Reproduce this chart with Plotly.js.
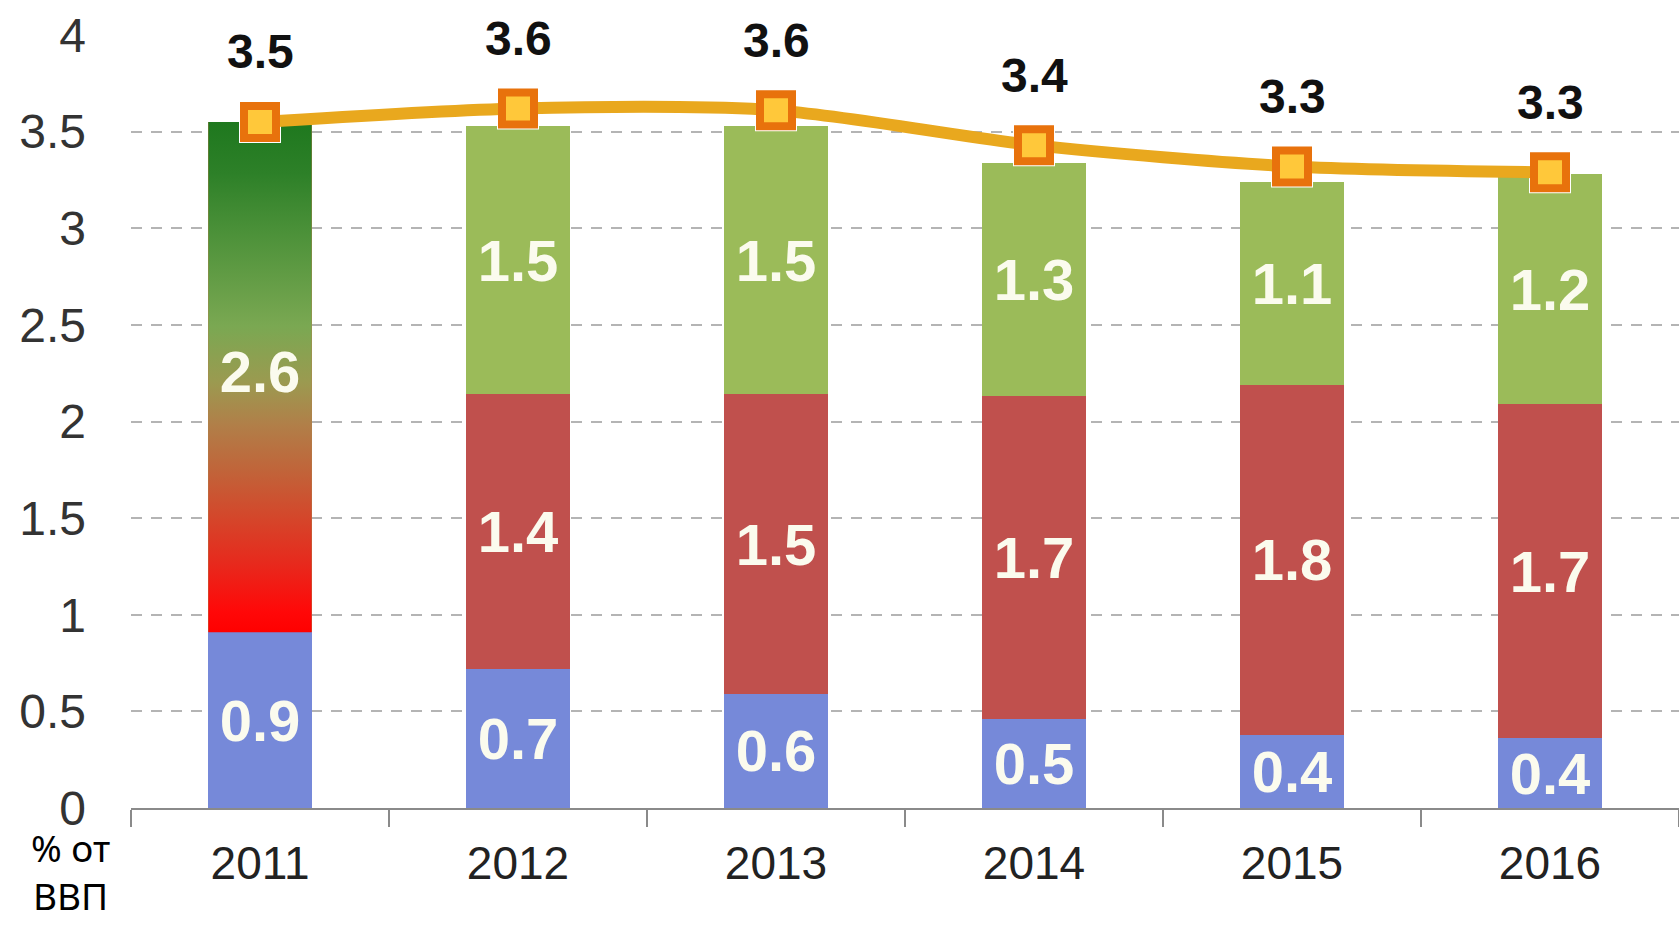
<!DOCTYPE html>
<html>
<head>
<meta charset="utf-8">
<script src="https://cdn.plot.ly/plotly-3.0.1.min.js"></script>
<style>html,body{margin:0;padding:0;background:#fff;}#chart{width:1679px;height:926px;}</style>
</head>
<body>
<div id="chart"></div>
<script>
// ---- data ----
const years = ['2011', '2012', '2013', '2014', '2015', '2016'];
const blueVals  = [0.91, 0.72, 0.59, 0.46, 0.38, 0.36];
const mixVals   = [2.64, null, null, null, null, null];   // 2011: combined (gradient) segment
const redVals   = [null, 1.42, 1.55, 1.67, 1.81, 1.73];
const greenVals = [null, 1.39, 1.39, 1.21, 1.05, 1.19];
const totalVals = [3.55, 3.62, 3.61, 3.43, 3.32, 3.29];

const blueLabels  = ['0.9', '0.7', '0.6', '0.5', '0.4', '0.4'];
const mixLabels   = ['2.6', '', '', '', '', ''];
const redLabels   = ['', '1.4', '1.5', '1.7', '1.8', '1.7'];
const greenLabels = ['', '1.5', '1.5', '1.3', '1.1', '1.2'];
const totalLabels = ['3.5', '3.6', '3.6', '3.4', '3.3', '3.3'];

const yTickVals = [0, 0.5, 1, 1.5, 2, 2.5, 3, 3.5, 4];
const yTickText = ['0', '0.5', '1', '1.5', '2', '2.5', '3', '3.5', '4'];
const unitLabel = '% от<br>ВВП';

// ---- styling ----
const barWidth = 0.4;
const idx = years.map((_, i) => i);
const boundaries = years.map((_, i) => i + 0.5).concat([-0.5]);
const barFont = {family: 'Liberation Sans, Arial, sans-serif', size: 58, color: '#fbfbee', weight: 'bold'};

function barTrace(vals, labels, color) {
  return {
    type: 'bar', x: idx, y: vals, width: barWidth,
    marker: {color: color, line: {width: 0}},
    text: labels, textposition: 'inside', insidetextanchor: 'middle',
    textangle: 0, constraintext: 'none',
    insidetextfont: barFont, hoverinfo: 'skip', showlegend: false
  };
}

const traces = [
  barTrace(blueVals, blueLabels, '#7689d9'),
  barTrace(mixVals, years.map(() => ''), '#b08049'),
  barTrace(redVals, redLabels, '#c0504d'),
  barTrace(greenVals, greenLabels, '#9bbb59')
];

// gradient overlay for the 2011 combined segment, built from the same data
const gi = mixVals.findIndex(v => v !== null);
const gBase = blueVals[gi], gTop = blueVals[gi] + mixVals[gi], hw = barWidth / 2;
traces.push({
  type: 'scatter', mode: 'lines',
  x: [gi - hw, gi + hw, gi + hw, gi - hw, gi - hw],
  y: [gBase, gBase, gTop, gTop, gBase],
  fill: 'toself', line: {width: 0, color: 'rgba(0,0,0,0)'},
  fillgradient: {
    type: 'vertical',
    colorscale: [
      [0, '#ff0000'], [0.04, '#ff0808'], [0.13, '#e8281c'], [0.22, '#d5452a'],
      [0.32, '#c0653a'], [0.41, '#b08049'], [0.49, '#9b9a50'], [0.6, '#7aa852'],
      [0.79, '#4a9038'], [0.9, '#2d8028'], [1, '#1e781e']
    ]
  },
  hoverinfo: 'skip', showlegend: false
});
// label for the combined segment
traces.push({
  type: 'scatter', mode: 'text',
  x: [gi], y: [gBase + mixVals[gi] / 2], text: [mixLabels[gi]],
  textposition: 'middle center', textfont: barFont,
  hoverinfo: 'skip', showlegend: false, cliponaxis: false
});
// white halo behind markers
traces.push({
  type: 'scatter', mode: 'markers', x: idx, y: totalVals,
  marker: {symbol: 'square', size: 42, color: '#ffffff', line: {width: 0}},
  hoverinfo: 'skip', showlegend: false, cliponaxis: false
});
// total line
traces.push({
  type: 'scatter', mode: 'lines+markers', x: idx, y: totalVals,
  line: {color: '#e9a81e', width: 12, shape: 'spline', smoothing: 0.8},
  marker: {symbol: 'square', size: 32, color: '#ffc83a', line: {color: '#e8720c', width: 8}},
  hoverinfo: 'skip', showlegend: false, cliponaxis: false
});

const annotations = idx.map(i => ({
  x: i, y: totalVals[i], xref: 'x', yref: 'y', text: totalLabels[i],
  showarrow: false, yshift: 70,
  font: {family: 'Liberation Sans, Arial, sans-serif', size: 48, color: '#111', weight: 'bold'}
}));
annotations.push({
  xref: 'paper', yref: 'paper', x: -0.0394, y: -0.082, xanchor: 'center', yanchor: 'middle',
  text: unitLabel, showarrow: false, align: 'center', borderpad: 0,
  font: {family: 'Noto Sans, sans-serif', size: 37, color: '#000'}
});

const layout = {
  width: 1679, height: 926,
  margin: {l: 131, r: 0, t: 35, b: 118, pad: 0},
  paper_bgcolor: '#ffffff', plot_bgcolor: '#ffffff',
  barmode: 'stack', bargap: 0.6,
  showlegend: false,
  xaxis: {
    type: 'linear', range: [-0.5, 5.5], fixedrange: true,
    tickmode: 'array', tickvals: idx, ticktext: years,
    ticks: '', showgrid: false, zeroline: false,
    showline: true, linecolor: '#8a8a8a', linewidth: 2,
    ticklabelstandoff: 14,
    tickfont: {family: 'Liberation Sans, Arial, sans-serif', size: 46, color: '#222'},
    minor: {tickmode: 'array', tickvals: boundaries, ticks: 'outside', ticklen: 17,
            tickcolor: '#8a8a8a', tickwidth: 2, showgrid: false}
  },
  yaxis: {
    range: [0, 4], fixedrange: true,
    tickmode: 'array', tickvals: yTickVals, ticktext: yTickText,
    ticks: '', showline: false, zeroline: false,
    showgrid: true, gridcolor: '#b4b4b4', gridwidth: 2, griddash: '11px,9px',
    ticklabelstandoff: 44,
    tickfont: {family: 'Liberation Sans, Arial, sans-serif', size: 48, color: '#333'}
  },
  annotations: annotations
};

Plotly.newPlot('chart', traces, layout, {staticPlot: true, displayModeBar: false});
</script>
</body>
</html>
